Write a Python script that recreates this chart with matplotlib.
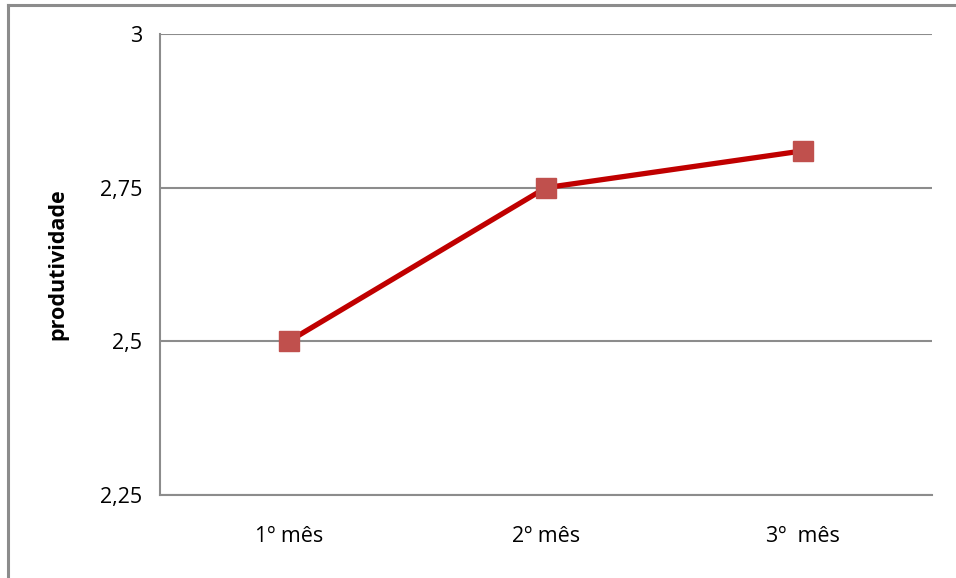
import matplotlib
matplotlib.use("Agg")
import matplotlib.pyplot as plt
from matplotlib.lines import Line2D

months = ["1º mês", "2º mês", "3º  mês"]
produtividade = [2.5, 2.75, 2.81]
y_ticks = [2.25, 2.5, 2.75, 3.0]
y_tick_labels = ["2,25", "2,5", "2,75", "3"]

plt.rcParams["font.family"] = ["Open Sans", "DejaVu Sans"]

W, H = 956, 578
fig = plt.figure(figsize=(W / 100, H / 100), dpi=100)
ax = fig.add_axes([160 / W, 1 - 495 / H, (932 - 160) / W, (495 - 34) / H])

# chart frame (top and left edges)
frame_c = "#8c8c8c"
fig.add_artist(Line2D([8 / W, 1.0], [1 - 5 / H, 1 - 5 / H], transform=fig.transFigure,
                      color=frame_c, lw=2.2))
fig.add_artist(Line2D([8 / W, 8 / W], [0.0, 1 - 5 / H], transform=fig.transFigure,
                      color=frame_c, lw=2.2))

x = list(range(len(months)))
ax.plot(x, produtividade, color="#C00000", lw=3.8, marker="s", markersize=14,
        markerfacecolor="#C0504D", markeredgecolor="#C0504D", zorder=3,
        solid_capstyle="butt")

ax.set_xlim(-0.5, len(months) - 0.5)
ax.set_ylim(2.25, 3.0)
ax.set_xticks(x)
ax.set_xticklabels(months, fontsize=15.5)
ax.set_yticks(y_ticks)
ax.set_yticklabels(y_tick_labels, fontsize=15.5)
ax.tick_params(axis="both", length=0, colors="black")
ax.tick_params(axis="y", pad=13)
ax.tick_params(axis="x", pad=22)

grid_c = "#8c8c8c"
ax.grid(axis="y", color=grid_c, lw=1.5)
ax.set_axisbelow(True)
for side in ["top", "right"]:
    ax.spines[side].set_visible(False)
for side in ["left", "bottom"]:
    ax.spines[side].set_color(grid_c)
    ax.spines[side].set_linewidth(1.5)

ax.set_ylabel("produtividade", fontsize=15.5, fontweight="bold")
ax.yaxis.set_label_coords(-(160 - 68) / (932 - 160), 0.5)

fig.savefig("out.png", dpi=100, facecolor="white")
